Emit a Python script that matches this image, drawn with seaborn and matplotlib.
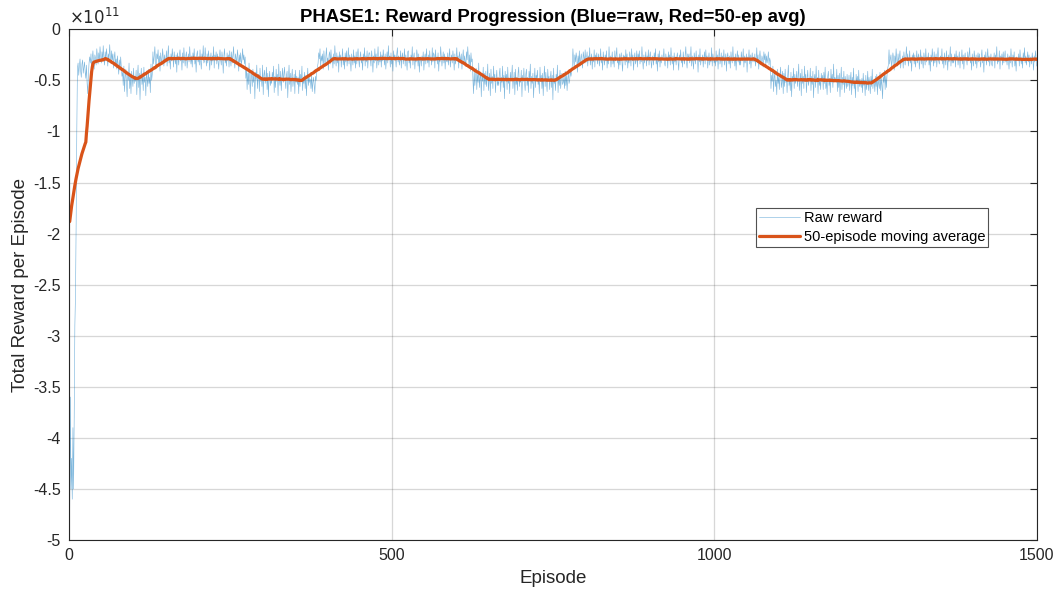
import numpy as np
import pandas as pd
import seaborn as sns
import matplotlib
matplotlib.use("Agg")
import matplotlib.pyplot as plt
from matplotlib.ticker import FixedLocator, FuncFormatter

# Reward per episode, in units of 1e9, split by training phase
warmup = [-468, -360, -450, -420, -460, -390, -450, -380, -290, -260, -190, -100]
good1 = [
    -38, -33, -45, -36, -29, -41, -47, -34, -30, -43, -37, -32, -42, -48, -35, -53, -63, -44, -33, -27,
    -33, -24, -37, -29, -21, -32, -39, -25, -28, -35, -19, -27, -34, -23, -31, -17, -26, -33, -22, -30,
    -16, -28, -35, -22, -31, -19, -26, -36, -24, -29, -15, -27, -33, -21, -30, -24, -38, -28, -22, -34,
    -29, -39, -26, -35, -44, -30, -40, -27, -36, -46,
]
bad1 = [
    -42, -55, -36, -61, -47, -39, -52, -66, -44, -50, -33, -58, -45, -63, -41, -49, -56, -38, -53, -46,
    -51, -40, -64, -46, -35, -57, -43, -69, -48, -38, -54, -44, -60, -37, -52, -47, -65, -41, -49, -56,
    -39, -53, -47, -62, -34, -50, -44,
]
good2 = [
    -22, -34, -27, -17, -31, -38, -24, -29, -20, -35, -26, -41, -23, -30, -33, -19, -28, -36, -25, -32,
    -30, -21, -36, -26, -16, -33, -28, -39, -24, -31, -19, -27, -37, -22, -29, -34, -25, -42, -23, -28,
    -35, -25, -20, -31, -27, -40, -23, -33, -18, -29, -36, -26, -22, -38, -30, -24, -32, -17, -28, -34,
    -26, -37, -23, -30, -19, -34, -28, -42, -25, -21, -32, -27, -35, -20, -31, -39, -24, -29, -16, -33,
    -31, -18, -28, -36, -24, -33, -21, -27, -40, -29, -23, -35, -26, -31, -17, -38, -25, -30, -22, -34,
    -24, -32, -39, -27, -20, -30, -35, -22, -28, -43, -26, -19, -33, -29, -36, -23, -31, -25, -37, -21,
    -29, -36, -22, -33, -26, -17, -31, -38, -24, -28, -34, -20, -27, -41, -25, -32, -23, -35, -30, -19,
    -30, -25, -34, -27,
]
bad2 = [
    -48, -37, -59, -43, -54, -33, -50, -63, -40, -47, -56, -39, -52, -45, -68, -42, -49, -35, -58, -46,
    -44, -61, -38, -51, -47, -56, -35, -64, -45, -40, -53, -49, -37, -59, -43, -66, -48, -41, -55, -50,
    -53, -42, -48, -36, -62, -46, -57, -39, -51, -44, -65, -34, -49, -55, -41, -60, -47, -38, -52, -45,
    -37, -50, -58, -45, -41, -67, -48, -35, -54, -43, -61, -47, -39, -56, -50, -44, -63, -40, -52, -46,
    -54, -47, -63, -40, -56, -44, -51, -36, -60, -48, -53, -42, -58, -45, -65, -49, -38, -55, -46, -52,
    -49, -58, -44, -61, -52, -47, -55, -63, -46, -50, -42, -37,
]
good3 = [
    -33, -23, -29, -19, -37, -26, -31, -24, -39, -21, -30, -35, -27, -18, -32, -28, -40, -25, -22, -34,
    -20, -31, -27, -38, -24, -34, -16, -29, -36, -23, -33, -26, -42, -22, -30, -25, -37, -28, -19, -35,
    -27, -39, -23, -32, -21, -36, -28, -18, -34, -25, -30, -41, -24, -29, -35, -20, -33, -26, -38, -22,
    -34, -25, -19, -30, -37, -27, -22, -33, -29, -40, -24, -31, -18, -36, -26, -32, -21, -38, -28, -23,
    -23, -30, -36, -21, -28, -42, -26, -33, -19, -31, -24, -38, -29, -17, -35, -27, -32, -22, -37, -25,
    -31, -20, -27, -35, -24, -39, -29, -22, -33, -16, -30, -26, -37, -23, -34, -28, -41, -21, -29, -25,
    -28, -37, -24, -18, -32, -26, -35, -30, -21, -38, -27, -23, -34, -29, -19, -36, -25, -31, -40, -22,
    -21, -33, -29, -38, -25, -30, -17, -35, -27, -23, -39, -28, -32, -20, -26, -36, -24, -42, -30, -27,
    -36, -26, -31, -22, -40, -28, -24, -34, -19, -29, -33, -25, -37, -21, -30, -27, -35, -18, -32, -23,
    -25, -38, -20, -30, -27, -34, -23, -41, -28, -32, -17, -26, -36, -29, -22, -33, -24, -39, -27, -31,
    -32, -23, -35, -27, -19, -37, -30, -25, -33, -21, -28, -40, -24, -34, -29, -18, -31, -26, -38, -22,
    -27, -33, -24, -39, -29, -20, -34, -26, -31, -36, -22, -30, -17, -28, -35, -25, -41, -23, -32, -29,
]
bad3 = [
    -49, -63, -40, -55, -46, -38, -59, -44, -52, -33, -57, -48, -42, -66, -45, -51, -37, -60, -43, -54,
    -41, -56, -47, -34, -60, -50, -43, -65, -39, -53, -46, -58, -36, -49, -44, -62, -48, -40, -55, -51,
    -55, -43, -38, -61, -47, -52, -36, -57, -45, -68, -41, -50, -44, -59, -37, -53, -48, -63, -42, -49,
    -46, -35, -58, -50, -42, -64, -39, -54, -47, -60, -43, -37, -56, -48, -52, -40, -66, -45, -51, -38,
    -52, -60, -44, -39, -55, -47, -62, -41, -49, -34, -58, -46, -53, -43, -67, -50, -38, -57, -45, -48,
    -40, -54, -49, -63, -37, -51, -45, -58, -43, -65, -47, -36, -56, -42, -52, -61, -39, -50, -46, -59,
    -47, -41, -57, -45, -69, -38, -53, -48, -60, -44, -50, -35, -62, -46, -55, -40, -58, -49, -43, -54,
    -52, -47, -58, -41, -55, -45, -60, -48, -43, -53, -50, -39, -46, -42, -36,
]
good4 = [
    -19, -30, -37, -25, -32, -23, -28, -42, -26, -34, -21, -36, -29, -24, -31, -38, -22, -27, -33, -20,
    -33, -28, -22, -36, -26, -31, -18, -35, -29, -24, -39, -27, -32, -20, -37, -25, -30, -23, -34, -28,
    -24, -36, -30, -19, -33, -27, -40, -22, -29, -35, -25, -31, -21, -38, -28, -34, -17, -30, -26, -37,
    -30, -22, -34, -28, -37, -21, -31, -26, -18, -33, -29, -39, -24, -35, -27, -23, -32, -41, -25, -28,
    -26, -35, -20, -32, -24, -38, -29, -33, -22, -27, -36, -19, -31, -25, -40, -28, -23, -34, -30, -21,
    -37, -24, -29, -21, -34, -27, -32, -17, -30, -39, -25, -33, -28, -22, -36, -26, -31, -20, -35, -27,
    -22, -31, -38, -26, -29, -35, -23, -30, -19, -34, -28, -41, -24, -32, -21, -37, -27, -33, -25, -30,
    -29, -19, -33, -36, -24, -30, -27, -38, -22, -31, -25, -35, -18, -28, -34, -26, -40, -23, -32, -27,
    -35, -27, -23, -31, -40, -25, -30, -20, -33, -28, -37, -22, -29, -34, -26, -17, -32, -38, -24, -30,
    -24, -33, -29, -17, -36, -26, -31, -39, -23, -28, -34, -21, -30, -27, -42, -25, -32, -19, -35, -28,
    -31, -25, -37, -28, -22, -34, -20, -30, -26, -38, -29, -23, -35, -27, -32, -18, -36, -24, -29, -33,
    -28, -36, -21, -32, -25, -39, -27, -19, -34, -30, -23, -37, -26, -31, -20, -35, -29, -24, -41, -27,
    -23, -30, -34, -26, -38, -22, -29, -33, -17, -31, -27, -36, -24, -40, -28, -21, -32, -25, -35, -30,
    -35, -22, -28, -31, -19, -37, -26, -33, -29, -24, -42, -27, -30, -20, -34, -25, -38, -28, -23, -32,
    -27, -32, -24, -36, -30, -18, -33, -25, -39, -28, -21, -31, -35, -26, -29, -37, -22, -30, -24, -34,
    -26, -33, -29, -22, -35, -28, -31,
]
bad4 = [
    -58, -45, -51, -36, -61, -48, -42, -56, -50, -64, -39, -53, -47, -59, -44, -37, -57, -52, -41, -63,
    -43, -56, -39, -52, -47, -62, -45, -35, -55, -49, -60, -42, -66, -46, -51, -38, -58, -44, -53, -48,
    -41, -56, -47, -34, -60, -50, -43, -65, -39, -53, -46, -58, -36, -49, -44, -62, -48, -40, -55, -51,
    -50, -38, -60, -46, -54, -41, -67, -48, -44, -57, -36, -52, -47, -63, -40, -55, -49, -59, -43, -51,
    -45, -59, -42, -53, -37, -58, -50, -64, -46, -41, -55, -48, -62, -39, -52, -44, -57, -34, -51, -47,
    -48, -52, -39, -61, -45, -57, -43, -66, -50, -37, -59, -47, -54, -41, -62, -46, -51, -58, -44, -56,
    -53, -45, -60, -49, -42, -64, -47, -55, -38, -58, -51, -67, -44, -52, -46, -61, -40, -56, -49, -54,
    -57, -48, -62, -43, -55, -50, -65, -45, -59, -52, -41, -60, -47, -54, -63, -46, -56, -39, -58, -51,
    -50, -61, -46, -56, -44, -64, -49, -53, -58, -42, -60, -48, -55, -68, -47, -52, -40, -59, -45, -57,
    -44, -38, -35,
]
good5 = [
    -20, -34, -29, -25, -37, -31, -23, -28, -40, -26, -33, -19, -30, -36, -24, -32, -27, -21, -38, -29,
    -32, -26, -38, -22, -29, -35, -27, -17, -31, -24, -36, -30, -21, -33, -28, -41, -25, -30, -23, -34,
    -25, -37, -30, -21, -33, -27, -24, -39, -29, -20, -34, -26, -31, -38, -23, -28, -35, -19, -32, -27,
    -30, -23, -35, -28, -41, -25, -32, -19, -27, -36, -22, -33, -29, -24, -37, -26, -18, -31, -34, -28,
    -26, -31, -19, -34, -27, -38, -23, -30, -35, -21, -29, -40, -25, -32, -28, -17, -36, -24, -33, -29,
    -33, -28, -24, -37, -21, -30, -26, -35, -29, -22, -38, -27, -31, -20, -34, -25, -39, -28, -23, -31,
    -29, -35, -22, -31, -26, -18, -33, -28, -40, -24, -30, -36, -21, -27, -34, -25, -38, -29, -23, -32,
    -24, -30, -37, -27, -20, -33, -29, -42, -25, -31, -22, -35, -28, -19, -32, -26, -36, -30, -24, -34,
    -36, -27, -31, -23, -38, -25, -29, -17, -34, -28, -32, -21, -39, -26, -30, -24, -35, -22, -33, -27,
    -21, -32, -28, -35, -24, -30, -39, -26, -33, -19, -29, -37, -25, -31, -22, -36, -28, -41, -27, -30,
    -31, -24, -36, -20, -29, -34, -27, -38, -23, -30, -18, -33, -26, -35, -29, -22, -32, -25, -37, -28,
    -27, -34, -23, -30, -40, -26, -32, -21, -29, -36,
]

y_ticks = [-5, -4.5, -4, -3.5, -3, -2.5, -2, -1.5, -1, -0.5, 0]
x_ticks = [0, 500, 1000, 1500]
WINDOW = 50
UNIT = 1e9

raw = np.array(warmup + good1 + bad1 + good2 + bad2 + good3 + bad3 + good4 + bad4 + good5,
               dtype=float) * UNIT
episodes = np.arange(1, len(raw) + 1)

# Centred moving average with a shrinking window at the ends
half_lo, half_hi = WINDOW // 2, WINDOW // 2 - 1
avg = np.array([raw[max(0, i - half_lo):min(len(raw), i + half_hi + 1)].mean()
                for i in range(len(raw))])

df = pd.DataFrame({"Episode": episodes, "raw": raw, "avg": avg})

sns.set_theme(style="white")
plt.rcParams["font.family"] = ["Liberation Sans", "DejaVu Sans"]
plt.rcParams["axes.unicode_minus"] = False

fig = plt.figure(figsize=(10.59, 5.90), dpi=100)
ax = fig.add_axes([0.0652, 0.0847, 0.9138, 0.8656])

sns.lineplot(data=df, x="Episode", y="raw", ax=ax, color=(0.0, 0.447, 0.741),
             alpha=0.5, linewidth=0.45, label="Raw reward")
sns.lineplot(data=df, x="Episode", y="avg", ax=ax, color="#D95319",
             linewidth=2.3, label="50-episode moving average")

ax.set_xlim(0, 1500)
ax.set_ylim(-5e11, 0)
ax.xaxis.set_major_locator(FixedLocator(x_ticks))
ax.yaxis.set_major_locator(FixedLocator([v * 1e11 for v in y_ticks]))
ax.yaxis.set_major_formatter(FuncFormatter(lambda v, _: f"{v / 1e11:g}"))
ax.xaxis.set_major_formatter(FuncFormatter(lambda v, _: f"{v:g}"))

axis_color = "#262626"
for s in ax.spines.values():
    s.set_color(axis_color)
    s.set_linewidth(0.8)
ax.tick_params(direction="in", length=5, width=0.8, colors=axis_color,
               labelsize=11.5, top=True, right=True, pad=6)
ax.grid(True, color=(0.15, 0.15, 0.15), alpha=0.18, linewidth=0.9)

ax.set_xlabel("Episode", fontsize=13.5, color=axis_color, labelpad=5)
ax.set_ylabel("Total Reward per Episode", fontsize=13.5, color=axis_color, labelpad=3)
ax.set_title("PHASE1: Reward Progression (Blue=raw, Red=50-ep avg)",
             fontsize=13.3, fontweight="bold", color="black", pad=5)
ax.text(0.0, 1.005, r"$\times10^{11}$", transform=ax.transAxes, fontsize=12,
        color=axis_color, ha="left", va="bottom")

leg = ax.legend(loc="upper left", bbox_to_anchor=(0.71, 0.65), fontsize=10.5,
                frameon=True, fancybox=False, borderpad=0.2, labelspacing=0.35,
                handlelength=2.8, handletextpad=0.25, borderaxespad=0)
leg.get_frame().set_edgecolor(axis_color)
leg.get_frame().set_linewidth(0.8)
for t in leg.get_texts():
    t.set_color("black")

fig.savefig("out.png", dpi=100)
